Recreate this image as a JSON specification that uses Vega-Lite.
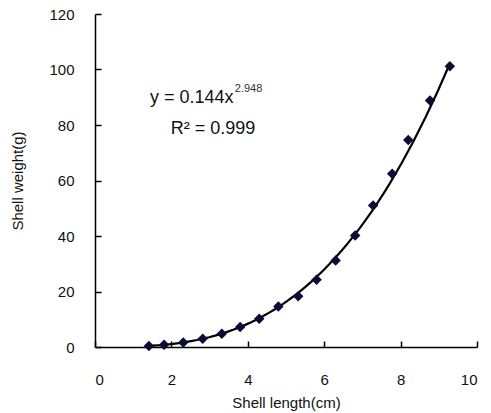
{
  "$schema": "https://vega.github.io/schema/vega-lite/v6.json",
  "width": 382,
  "height": 333,
  "autosize": {"type": "none"},
  "padding": {"left": 95, "top": 14, "right": 14, "bottom": 66},
  "background": "white",
  "config": {
    "view": {"stroke": null},
    "font": "Liberation Sans",
    "axis": {
      "grid": false,
      "domainColor": "#000000",
      "domainWidth": 1.5,
      "tickColor": "#000000",
      "tickWidth": 1.5,
      "tickSize": -6,
      "labelColor": "#111111",
      "labelFont": "Liberation Sans",
      "labelFontSize": 15,
      "titleFont": "Liberation Sans",
      "titleFontSize": 15,
      "titleFontWeight": "normal",
      "titleColor": "#111111"
    }
  },
  "datasets": {
    "shell": [
      {"length": 1.41, "weight": 0.4},
      {"length": 1.81, "weight": 0.8},
      {"length": 2.31, "weight": 1.6},
      {"length": 2.82, "weight": 3.0},
      {"length": 3.32, "weight": 4.8},
      {"length": 3.80, "weight": 7.2},
      {"length": 4.30, "weight": 10.2},
      {"length": 4.80, "weight": 14.6},
      {"length": 5.32, "weight": 18.3},
      {"length": 5.80, "weight": 24.2},
      {"length": 6.30, "weight": 31.2},
      {"length": 6.81, "weight": 40.2},
      {"length": 7.28, "weight": 51.0},
      {"length": 7.78, "weight": 62.4},
      {"length": 8.20, "weight": 74.6},
      {"length": 8.77, "weight": 88.8},
      {"length": 9.29, "weight": 101.2}
    ],
    "labels": [
      {"x": 1.44, "y": 89.9, "text": "y = 0.144x", "kind": "main"},
      {"x": 3.66, "y": 93.0, "text": "2.948", "kind": "sup"},
      {"x": 1.98, "y": 78.4, "text": "R² = 0.999", "kind": "main"}
    ]
  },
  "layer": [
    {
      "data": {"name": "shell"},
      "transform": [{"regression": "weight", "on": "length", "method": "pow"}],
      "mark": {"type": "line", "color": "#000000", "strokeWidth": 2.2},
      "encoding": {
        "x": {
          "field": "length", "type": "quantitative",
          "scale": {"domain": [0, 10], "nice": false},
          "axis": {"values": [0, 2, 4, 6, 8, 10], "title": "Shell length(cm)", "labelPadding": 31, "titlePadding": 8}
        },
        "y": {
          "field": "weight", "type": "quantitative",
          "scale": {"domain": [0, 120], "nice": false},
          "axis": {"values": [0, 20, 40, 60, 80, 100, 120], "title": "Shell weight(g)", "labelPadding": 27, "titlePadding": 23}
        }
      }
    },
    {
      "data": {"name": "shell"},
      "mark": {"type": "point", "shape": "diamond", "filled": true, "size": 110, "color": "#0b0b38", "opacity": 1},
      "encoding": {
        "x": {"field": "length", "type": "quantitative"},
        "y": {"field": "weight", "type": "quantitative"}
      }
    },
    {
      "data": {"name": "labels"},
      "transform": [{"filter": "datum.kind === 'main'"}],
      "mark": {"type": "text", "align": "left", "baseline": "middle", "fontSize": 18, "color": "#111111", "font": "Liberation Sans"},
      "encoding": {
        "x": {"field": "x", "type": "quantitative"},
        "y": {"field": "y", "type": "quantitative"},
        "text": {"field": "text"}
      }
    },
    {
      "data": {"name": "labels"},
      "transform": [{"filter": "datum.kind === 'sup'"}],
      "mark": {"type": "text", "align": "left", "baseline": "middle", "fontSize": 11, "color": "#333333", "font": "Liberation Sans"},
      "encoding": {
        "x": {"field": "x", "type": "quantitative"},
        "y": {"field": "y", "type": "quantitative"},
        "text": {"field": "text"}
      }
    }
  ]
}
